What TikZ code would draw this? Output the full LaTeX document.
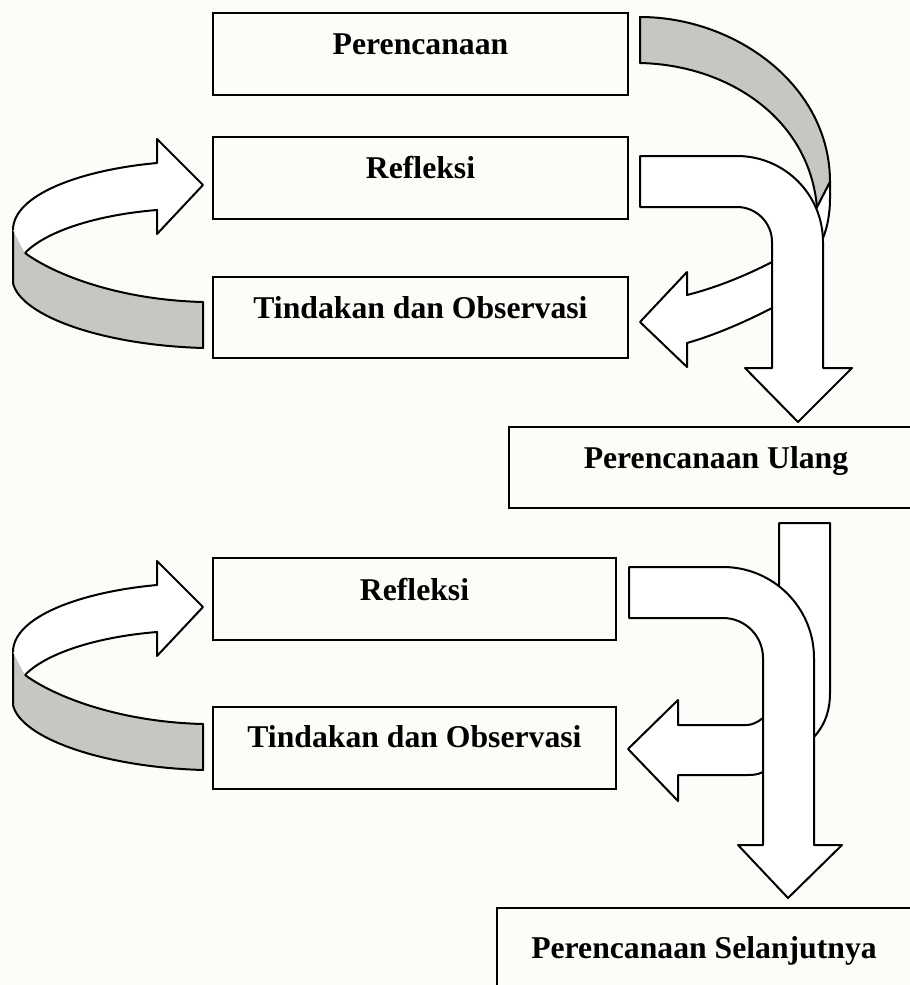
\documentclass[tikz,border=0pt]{standalone}
\usepackage{fontspec}
\setmainfont{Liberation Serif}
\definecolor{ribbongray}{RGB}{198,198,194}
\definecolor{paper}{RGB}{252,252,249}
\tikzset{
  boxnode/.style={draw=black, line width=2.2pt, inner sep=0pt, outer sep=0pt, anchor=north west},
  lbl/.style={font=\fontsize{31.7}{38}\selectfont\bfseries, anchor=base, inner sep=0pt, text=black},
  shapeline/.style={draw=black, line width=2pt, line join=round},
  leftribbon/.pic={
    \fill[ribbongray] (13,230) -- (13,283) .. controls (20,315) and (100,345) .. (203,348)
      -- (203,302) .. controls (120,300) and (55,275) .. (25,253) -- cycle;
    \draw[shapeline] (25,253) .. controls (55,275) and (120,300) .. (203,302) -- (203,348)
      .. controls (100,345) and (20,315) .. (13,283) -- (13,230);
    \filldraw[shapeline, fill=white] (13,230) .. controls (13,195) and (80,170) .. (157,163)
      -- (157,139) -- (203,185) -- (157,234) -- (157,210)
      .. controls (95,215) and (45,232) .. (25,253);
  }
}
\begin{document}
\begin{tikzpicture}[x=1pt,y=-1pt]
\fill[paper] (0,0) rectangle (910,985);
\useasboundingbox (0,0) rectangle (910,985);
\clip (0,0) rectangle (910,985);

% boxes
\node[boxnode, minimum width=415pt, minimum height=82pt] (b1) at (213,13) {};
\node[boxnode, minimum width=415pt, minimum height=82pt] (b2) at (213,137) {};
\node[boxnode, minimum width=415pt, minimum height=81pt] (b3) at (213,277) {};
\node[boxnode, minimum width=430pt, minimum height=81pt] (b4) at (509,427) {};
\node[boxnode, minimum width=403pt, minimum height=82pt] (b5) at (213,558) {};
\node[boxnode, minimum width=403pt, minimum height=82pt] (b6) at (213,707) {};
\node[boxnode, minimum width=440pt, minimum height=120pt] (b7) at (497,908) {};

% labels
\node[lbl] (t1) at (420.5,54) {Perencanaan};
\node[lbl] (t2) at (420.5,178) {Refleksi};
\node[lbl] (t3) at (420.5,318) {Tindakan dan Observasi};
\node[lbl] (t4) at (716,468) {Perencanaan Ulang};
\node[lbl] (t5) at (414.5,600) {Refleksi};
\node[lbl] (t6) at (414.5,747) {Tindakan dan Observasi};
\node[lbl] (t7) at (704,958) {Perencanaan Selanjutnya};

% left curved arrows
\pic at (0,0) {leftribbon};
\pic at (0,422) {leftribbon};

% top right curved arrow: gray back
\filldraw[shapeline, fill=ribbongray] (640,17) .. controls (735,17) and (830,85) .. (830,182)
  -- (817,208) .. controls (810,120) and (730,65) .. (640,63) -- cycle;
% top right curved arrow: white front pointing left
\filldraw[shapeline, fill=white] (830,182) -- (830,198) .. controls (830,215) and (827,228) .. (823,238)
  -- (800,290) -- (772,308) .. controls (745,322) and (715,335) .. (687,343)
  -- (687,367) -- (640,322) -- (687,272) -- (687,295)
  .. controls (715,288) and (745,276) .. (772,262) -- (800,232) -- (816,209) -- cycle;
% top bent arrow
\filldraw[shapeline, fill=white] (640,156) -- (737,156) .. controls (784.5,156) and (823,194.5) .. (823,242)
  -- (823,368) -- (852,368) -- (798,422) -- (745,368) -- (772,368) -- (772,242)
  .. controls (772,222.7) and (756.3,207) .. (737,207) -- (640,207) -- cycle;

% bottom right curved arrow (straight back + front pointing left)
\filldraw[shapeline, fill=white] (779,523) -- (830,523) -- (830,693) .. controls (830,715) and (822,728) .. (814,737)
  -- (795,760) -- (763,772) .. controls (757,775) and (752,775) .. (747,775)
  -- (678,775) -- (678,801) -- (628,749) -- (678,700) -- (678,725) -- (747,725)
  .. controls (752,725) and (758,722) .. (763,718) -- (779,700) -- cycle;
% bottom bent arrow
\filldraw[shapeline, fill=white] (629,567) -- (723,567) .. controls (773.3,567) and (814,607.7) .. (814,658)
  -- (814,845) -- (842,845) -- (788,898) -- (738,845) -- (763,845) -- (763,658)
  .. controls (763,635.9) and (745.1,618) .. (723,618) -- (629,618) -- cycle;
\end{tikzpicture}
\end{document}
